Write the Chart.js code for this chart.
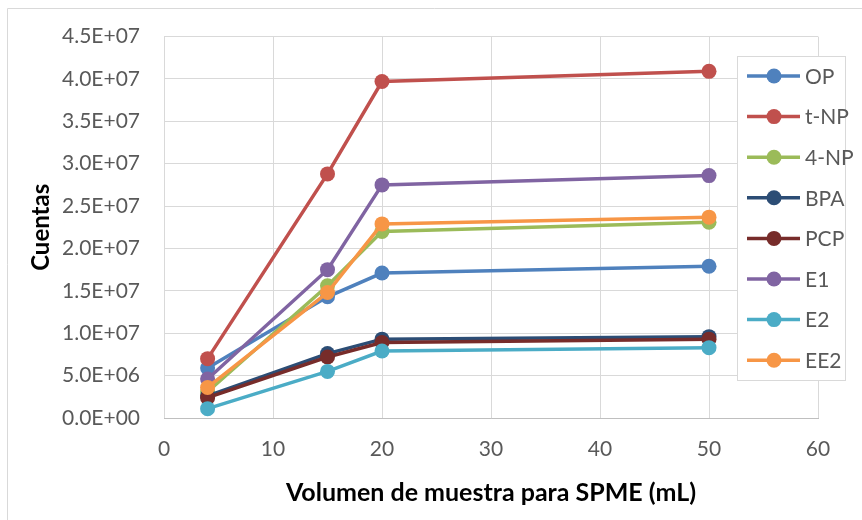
<!DOCTYPE html>
<html>
<head>
<meta charset="utf-8">
<script src="https://cdn.jsdelivr.net/npm/chart.js@4.4.1/dist/chart.umd.min.js"></script>
<style>
    html, body { margin: 0; padding: 0; background: #fff; }
    #wrap { width: 862px; height: 520px; position: relative; }
</style>
</head>
<body>
<div id="wrap"><canvas id="chart" width="862" height="520"></canvas></div>
<script>
// Sample volume (mL) for each measurement
const volumes = [4, 15, 20, 50];

// Counts per compound
const seriesNames = ["OP", "t-NP", "4-NP", "BPA", "PCP", "E1", "E2", "EE2"];
const opValues   = [5.9e6, 14.3e6, 17.1e6, 17.9e6];
const tnpValues  = [7.0e6, 28.8e6, 39.7e6, 40.9e6];
const np4Values  = [3.1e6, 15.6e6, 22.0e6, 23.1e6];
const bpaValues  = [2.6e6, 7.6e6, 9.3e6, 9.6e6];
const pcpValues  = [2.4e6, 7.2e6, 8.9e6, 9.3e6];
const e1Values   = [4.6e6, 17.5e6, 27.5e6, 28.6e6];
const e2Values   = [1.1e6, 5.5e6, 7.9e6, 8.3e6];
const ee2Values  = [3.6e6, 14.8e6, 22.9e6, 23.7e6];
const seriesColors = ["#4f81bd", "#c0504d", "#9bbb59", "#2c4d75", "#772c2a", "#8064a2", "#4bacc6", "#f79646"];

// Axis ticks
const yTicks = [0, 5e6, 10e6, 15e6, 20e6, 25e6, 30e6, 35e6, 40e6, 45e6];
const xTicks = [0, 10, 20, 30, 40, 50, 60];

const allValues = [opValues, tnpValues, np4Values, bpaValues, pcpValues, e1Values, e2Values, ee2Values];

// Excel style scientific number, e.g. 4.5E+07
function sciLabel(v) {
    if (v === 0) return "0.0E+00";
    let parts = v.toExponential(1).split("e");
    let exp = parseInt(parts[1]);
    return parts[0] + "E" + (exp < 0 ? "-" : "+") + String(Math.abs(exp)).padStart(2, "0");
}

const FONT = "Lato, 'Open Sans', sans-serif";

let datasets = seriesNames.map((name, i) => ({
    label: name,
    data: volumes.map((x, j) => ({ x: x, y: allValues[i][j] })),
    showLine: true,
    borderColor: seriesColors[i],
    backgroundColor: seriesColors[i],
    borderWidth: 3.5,
    pointRadius: 7.5,
    pointHoverRadius: 7.5,
    pointBorderWidth: 0,
    order: seriesNames.length - i
}));

// Outer frame of the chart
const framePlugin = {
    id: "frame",
    beforeDraw(chart) {
        let ctx = chart.ctx;
        ctx.save();
        ctx.strokeStyle = "#d9d9d9";
        ctx.lineWidth = 1;
        ctx.beginPath();
        ctx.moveTo(7.5, 520);
        ctx.lineTo(7.5, 8.5);
        ctx.lineTo(862, 8.5);
        ctx.stroke();
        ctx.restore();
    }
};

// Legend box drawn over the plot, like in the original
const legendPlugin = {
    id: "boxLegend",
    afterDraw(chart) {
        let ctx = chart.ctx;
        ctx.save();
        ctx.fillStyle = "#fff";
        ctx.fillRect(737, 56, 108, 324);
        ctx.strokeStyle = "#d9d9d9";
        ctx.lineWidth = 1;
        ctx.strokeRect(737.5, 56.5, 108, 324);
        ctx.font = "21px " + FONT;
        ctx.textBaseline = "middle";
        seriesNames.forEach((name, i) => {
            let y = 76 + i * 40.6;
            ctx.strokeStyle = seriesColors[i];
            ctx.lineWidth = 3.5;
            ctx.beginPath();
            ctx.moveTo(747, y);
            ctx.lineTo(800, y);
            ctx.stroke();
            ctx.fillStyle = seriesColors[i];
            ctx.beginPath();
            ctx.arc(774, y, 7.5, 0, Math.PI * 2);
            ctx.fill();
            ctx.fillStyle = "#595959";
            ctx.fillText(name, 805, y + 1);
        });
        ctx.restore();
    }
};

new Chart(document.getElementById("chart"), {
    type: "scatter",
    data: { datasets: datasets },
    options: {
        responsive: false,
        animation: false,
        layout: { padding: { top: 32, right: 44, left: 25, bottom: 0 } },
        plugins: {
            legend: { display: false },
            tooltip: { enabled: false }
        },
        scales: {
            x: {
                type: "linear",
                min: 0,
                max: 60,
                afterBuildTicks: s => { s.ticks = xTicks.map(v => ({ value: v })); },
                afterFit: s => { s.height = 102; },
                grid: { color: "#d9d9d9", lineWidth: 1, drawTicks: false },
                border: { color: "#bfbfbf", width: 1 },
                ticks: { color: "#595959", font: { family: FONT, size: 21 }, padding: 19 },
                title: {
                    display: true,
                    text: "Volumen de muestra para SPME (mL)",
                    color: "#000",
                    font: { family: FONT, size: 25, weight: "bold" },
                    padding: { top: 4, bottom: 12 }
                }
            },
            y: {
                type: "linear",
                min: 0,
                max: 45e6,
                afterBuildTicks: s => { s.ticks = yTicks.map(v => ({ value: v })); },
                afterFit: s => { s.width = 139; },
                grid: { color: "#d9d9d9", lineWidth: 1, drawTicks: false },
                border: { display: false },
                ticks: {
                    color: "#595959",
                    font: { family: FONT, size: 21 },
                    padding: 24,
                    callback: v => sciLabel(v)
                },
                title: {
                    display: true,
                    text: "Cuentas",
                    color: "#000",
                    font: { family: FONT, size: 24, weight: "bold" },
                    padding: 2
                }
            }
        }
    },
    plugins: [framePlugin, legendPlugin]
});
</script>
</body>
</html>
